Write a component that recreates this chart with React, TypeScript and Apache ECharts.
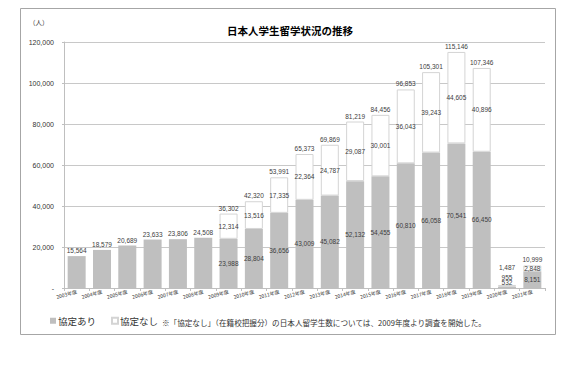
import React, { useEffect, useRef } from "react";
import * as echarts from "echarts";

const years = [
  "2003年度", "2004年度", "2005年度", "2006年度", "2007年度", "2008年度", "2009年度",
  "2010年度", "2011年度", "2012年度", "2013年度", "2014年度", "2015年度", "2016年度",
  "2017年度", "2018年度", "2019年度", "2020年度", "2021年度",
];
const withAgreement = [
  15564, 18579, 20689, 23633, 23806, 24508, 23988, 28804, 36656, 43009, 45082, 52132,
  54455, 60810, 66058, 70541, 66450, 532, 8151,
];
const withoutAgreement = [
  null, null, null, null, null, null, 12314, 13516, 17335, 22364, 24787, 29087, 30001,
  36043, 39243, 44605, 40896, 955, 2848,
];
const totals = [
  15564, 18579, 20689, 23633, 23806, 24508, 36302, 42320, 53991, 65373, 69869, 81219,
  84456, 96853, 105301, 115146, 107346, 1487, 10999,
];
const yTicks = [0, 20000, 40000, 60000, 80000, 100000, 120000];

const NUM_FONT = "'Liberation Sans Narrow', 'Liberation Sans', sans-serif";
const CJK_FONT = "'Noto Sans CJK JP', sans-serif";
const fmt = (v: number) => v.toLocaleString("en-US");
const smallIdx = years.indexOf("2020年度");
const firstSplit = 6;

export default function App() {
  const ref = useRef<HTMLDivElement>(null);
  useEffect(() => {
    document.body.style.margin = "0";
    const chart = echarts.init(ref.current!, null, { renderer: "svg" });
    const labelBase = {
      show: true,
      fontSize: 6.5,
      color: "#404040",
      fontFamily: NUM_FONT,
    };
    const grayData = withAgreement.map((v, i) =>
      i === smallIdx ? { value: v, label: { offset: [0, -4.5] } } : v
    );
    const whiteData = withoutAgreement.map((v, i) =>
      i === smallIdx ? { value: v, label: { offset: [0, -8.5] } } : v
    );
    const totalData = totals.map((v, i) =>
      i === smallIdx ? { value: v, label: { offset: [0, -11.5] } } : v
    );
    chart.setOption({
      animation: false,
      backgroundColor: "#ffffff",
      grid: { left: 64, right: 29, top: 42, bottom: 85 },
      legend: {
        left: 50,
        top: 316,
        padding: 0,
        itemWidth: 6,
        itemHeight: 6,
        itemGap: 15,
        icon: "rect",
        data: ["協定あり", "協定なし"],
        textStyle: { fontSize: 9.5, color: "#333", fontFamily: CJK_FONT, padding: [0, 0, 0, -3] },
      },
      xAxis: {
        type: "category",
        data: years,
        axisLine: { lineStyle: { color: "#bfbfbf" } },
        axisTick: { show: true, length: 3, lineStyle: { color: "#bfbfbf" } },
        axisLabel: {
          interval: 0,
          rotate: 15,
          fontSize: 5,
          margin: 3,
          color: "#333",
          fontFamily: CJK_FONT,
        },
      },
      yAxis: {
        type: "value",
        min: yTicks[0],
        max: yTicks[yTicks.length - 1],
        interval: yTicks[1] - yTicks[0],
        axisLine: { show: true, lineStyle: { color: "#bfbfbf" } },
        axisTick: { show: true, length: 2, lineStyle: { color: "#bfbfbf" } },
        splitLine: { lineStyle: { color: "#c8c8c8" } },
        axisLabel: {
          margin: 10,
          fontSize: 7,
          color: "#333",
          fontFamily: NUM_FONT,
          formatter: (v: number) => (v === 0 ? "-" : fmt(v)),
        },
      },
      series: [
        {
          name: "協定あり",
          type: "bar",
          stack: "a",
          barWidth: 18,
          data: grayData,
          itemStyle: { color: "#bfbfbf" },
          label: {
            ...labelBase,
            position: "inside",
            formatter: (p: any) => (p.dataIndex < firstSplit ? "" : fmt(p.value)),
          },
        },
        {
          name: "協定なし",
          type: "bar",
          stack: "a",
          barWidth: 18,
          data: whiteData,
          itemStyle: { color: "#ffffff", borderColor: "#d4d4d4", borderWidth: 1 },
          label: {
            ...labelBase,
            position: "inside",
            formatter: (p: any) => (p.value == null ? "" : fmt(p.value)),
          },
        },
        {
          name: "合計",
          type: "bar",
          barWidth: 18,
          barGap: "-100%",
          data: totalData,
          itemStyle: { color: "rgba(0,0,0,0)" },
          silent: true,
          label: {
            ...labelBase,
            position: "top",
            distance: 2,
            formatter: (p: any) => fmt(p.value),
          },
        },
      ],
      graphic: [
        {
          type: "rect",
          shape: { x: 20.5, y: 8.5, width: 535, height: 326 },
          style: { fill: "none", stroke: "#a6a6a6", lineWidth: 1 },
          silent: true,
        },
        {
          type: "text",
          x: 290,
          y: 30,
          style: {
            text: "日本人学生留学状況の推移",
            fontSize: 10.5,
            fontWeight: "bold",
            fill: "#000",
            fontFamily: CJK_FONT,
            align: "center",
            verticalAlign: "middle",
          },
        },
        {
          type: "text",
          x: 29,
          y: 22,
          style: {
            text: "（人）",
            fontSize: 6.5,
            fill: "#333",
            fontFamily: CJK_FONT,
            align: "left",
            verticalAlign: "middle",
          },
        },
        {
          type: "text",
          x: 162,
          y: 322,
          style: {
            text: "※「協定なし」（在籍校把握分）の日本人留学生数については、2009年度より調査を開始した。",
            fontSize: 7.6,
            fill: "#333",
            fontFamily: CJK_FONT,
            align: "left",
            verticalAlign: "middle",
          },
        },
      ],
    });
    return () => chart.dispose();
  }, []);
  return (
    <div
      ref={ref}
      style={{ position: "absolute", left: 0, top: 0, width: 574, height: 373, background: "#fff" }}
    />
  );
}
